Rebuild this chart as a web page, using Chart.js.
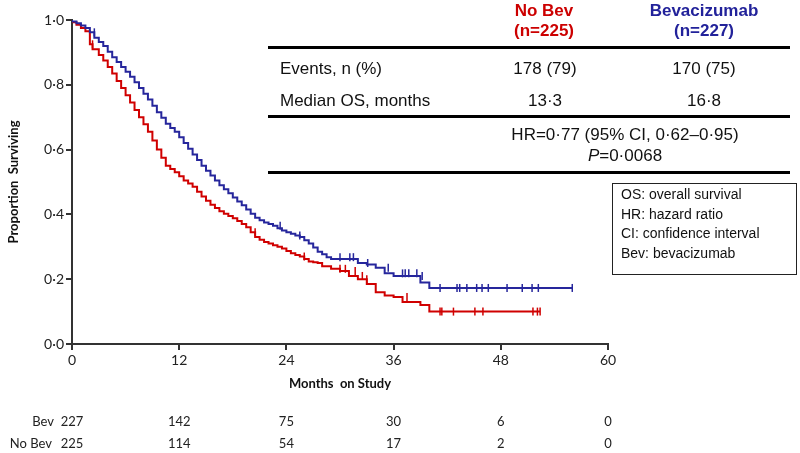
<!DOCTYPE html>
<html>
<head>
<meta charset="utf-8">
<script src="https://cdn.jsdelivr.net/npm/chart.js@4"></script>
<style>
  body { margin: 0; background: #fff; }
  #wrap { position: relative; width: 800px; height: 453px; }
  .t { position: absolute; font-family: "Liberation Sans", Arial, sans-serif; font-size: 17px; color: #111; white-space: nowrap; line-height: 1; }
  .c { transform: translateX(-50%); text-align: center; }
  .rule { position: absolute; left: 268px; width: 522px; height: 3px; background: #000; }
  #legendBox { position: absolute; left: 612px; top: 183px; width: 183px; height: 90px; border: 1.5px solid #222; }
  #legendBox div { font-family: "Liberation Sans", Arial, sans-serif; font-size: 14px; color: #111; line-height: 19.5px; padding-left: 8px; }
</style>
</head>
<body>
<div id="wrap">
  <canvas id="grafico" width="800" height="453"></canvas>

  <div class="t c" style="left:544px;top:2px;color:#cc0000;font-weight:bold;">No Bev</div>
  <div class="t c" style="left:544px;top:22px;color:#cc0000;font-weight:bold;">(n=225)</div>
  <div class="t c" style="left:704px;top:2px;color:#22229a;font-weight:bold;">Bevacizumab</div>
  <div class="t c" style="left:704px;top:22px;color:#22229a;font-weight:bold;">(n=227)</div>
  <div class="rule" style="top:46px;"></div>
  <div class="t" style="left:280px;top:60px;">Events, n (%)</div>
  <div class="t c" style="left:545px;top:60px;">178 (79)</div>
  <div class="t c" style="left:704px;top:60px;">170 (75)</div>
  <div class="t" style="left:280px;top:92px;">Median OS, months</div>
  <div class="t c" style="left:545px;top:92px;">13·3</div>
  <div class="t c" style="left:704px;top:92px;">16·8</div>
  <div class="rule" style="top:115px;"></div>
  <div class="t c" style="left:625px;top:126px;">HR=0·77 (95% CI, 0·62–0·95)</div>
  <div class="t c" style="left:625px;top:147px;"><i>P</i>=0·0068</div>
  <div class="rule" style="top:171px;"></div>

  <div id="legendBox">
    <div style="margin-top:1px;">OS: overall survival</div>
    <div>HR: hazard ratio</div>
    <div>CI: confidence interval</div>
    <div>Bev: bevacizumab</div>
  </div>
</div>

<script>
// Kaplan-Meier curves (months, proportion surviving)
const bevMeses = [0, 0.5, 1, 1.5, 2, 2.5, 3, 3.5, 4, 4.5, 5, 5.5, 6, 6.5, 7, 7.5, 8, 8.5, 9, 9.5, 10, 10.5, 11, 11.5, 12, 12.5, 13, 13.5, 14, 14.5, 15, 15.5, 16, 16.5, 17, 17.5, 18, 18.5, 19, 19.5, 20, 20.5, 21, 21.5, 22, 22.5, 23, 23.5, 24, 24.5, 25, 25.5, 26, 26.5, 27, 27.5, 28, 28.5, 29, 32, 33, 34, 35, 36, 39, 40, 41, 56];
const bevSobrev = [1.0, 0.995, 0.99, 0.983, 0.975, 0.962, 0.945, 0.932, 0.92, 0.902, 0.885, 0.87, 0.855, 0.84, 0.825, 0.808, 0.79, 0.772, 0.755, 0.735, 0.715, 0.698, 0.68, 0.667, 0.655, 0.638, 0.62, 0.603, 0.585, 0.568, 0.55, 0.535, 0.52, 0.505, 0.49, 0.478, 0.465, 0.452, 0.44, 0.428, 0.415, 0.402, 0.39, 0.382, 0.375, 0.37, 0.365, 0.357, 0.35, 0.345, 0.34, 0.335, 0.33, 0.32, 0.31, 0.298, 0.285, 0.277, 0.268, 0.262, 0.25, 0.245, 0.235, 0.218, 0.21, 0.19, 0.173, 0.173];

const semBevMeses = [0, 0.5, 1, 1.5, 2, 2.3, 3, 3.5, 4, 4.5, 5, 5.5, 6, 6.5, 7, 7.5, 8, 8.5, 9, 9.5, 10, 10.5, 11, 11.5, 12, 12.5, 13, 13.5, 14, 14.5, 15, 15.5, 16, 16.5, 17, 17.5, 18, 18.5, 19, 19.5, 20, 20.5, 21, 21.5, 22, 22.5, 23, 23.5, 24, 24.5, 25, 25.5, 26, 26.5, 27, 27.5, 28, 29, 30, 31, 32, 33, 34, 35, 36, 37, 39, 40, 41, 52.4];
const semBevSobrev = [1.0, 0.993, 0.985, 0.975, 0.965, 0.925, 0.91, 0.892, 0.875, 0.855, 0.835, 0.812, 0.79, 0.768, 0.745, 0.722, 0.7, 0.678, 0.655, 0.628, 0.6, 0.575, 0.55, 0.54, 0.53, 0.518, 0.505, 0.495, 0.485, 0.47, 0.455, 0.442, 0.43, 0.42, 0.41, 0.402, 0.395, 0.388, 0.38, 0.37, 0.36, 0.345, 0.33, 0.322, 0.315, 0.31, 0.305, 0.3, 0.295, 0.287, 0.28, 0.275, 0.27, 0.262, 0.255, 0.252, 0.25, 0.24, 0.232, 0.225, 0.21, 0.2, 0.185, 0.16, 0.15, 0.145, 0.13, 0.12, 0.1, 0.1];

// censored observations (months)
const bevCensura = [2.5, 23.3, 25.5, 30, 31.1, 31.5, 33.1, 35.4, 37, 37.3, 37.7, 38.6, 39.2, 41.2, 43.1, 43.4, 44.2, 45.3, 45.9, 46.6, 48.7, 50.4, 51.5, 52.2, 56];
const semBevCensura = [2.3, 20.5, 26, 30, 30.6, 31.7, 32.5, 33, 37.5, 41.2, 41.4, 42.7, 45.1, 46, 51.6, 52.1, 52.4];

// numbers at risk
const mesesRisco = [0, 12, 24, 36, 48, 60];
const riscoBev = [227, 142, 75, 30, 6, 0];
const riscoSemBev = [225, 114, 54, 17, 2, 0];

const corBev = '#26269c';
const corSemBev = '#d00000';

function pontos(meses, sobrev) {
    return meses.map((m, i) => ({ x: m, y: sobrev[i] }));
}

function sobrevEm(meses, sobrev, t) {
    let v = sobrev[0];
    for (let i = 0; i < meses.length; i++) {
        if (meses[i] <= t) v = sobrev[i];
    }
    return v;
}

function censuras(lista, meses, sobrev) {
    return lista.map(t => ({ x: t, y: sobrevEm(meses, sobrev, t) }));
}

const fmt = v => v.toFixed(1).replace('.', '·');
const fonte = 'Lato, "Open Sans", sans-serif';

const tabelaRisco = {
    id: 'tabelaRisco',
    afterDraw(chart) {
        const c = chart.ctx;
        const xs = chart.scales.x;
        c.save();
        c.font = '13px ' + fonte;
        c.fillStyle = '#222';
        c.textBaseline = 'middle';
        c.textAlign = 'right';
        c.fillText('Bev', 54, 422);
        c.fillText('No Bev', 52, 444);
        c.textAlign = 'center';
        mesesRisco.forEach((m, i) => {
            const px = xs.getPixelForValue(m);
            c.fillText(String(riscoBev[i]), px, 422);
            c.fillText(String(riscoSemBev[i]), px, 444);
        });
        c.restore();
    }
};

const ctx = document.getElementById('grafico').getContext('2d');

new Chart(ctx, {
    type: 'line',
    data: {
        datasets: [
            {
                label: 'Bevacizumab',
                data: pontos(bevMeses, bevSobrev),
                borderColor: corBev,
                borderWidth: 2,
                stepped: 'after',
                pointRadius: 0,
                fill: false
            },
            {
                label: 'No Bev',
                data: pontos(semBevMeses, semBevSobrev),
                borderColor: corSemBev,
                borderWidth: 2,
                stepped: 'after',
                pointRadius: 0,
                fill: false
            },
            {
                label: 'Bev censored',
                data: censuras(bevCensura, bevMeses, bevSobrev),
                showLine: false,
                pointStyle: 'line',
                rotation: 90,
                pointRadius: 4,
                borderColor: corBev,
                borderWidth: 1.5
            },
            {
                label: 'No Bev censored',
                data: censuras(semBevCensura, semBevMeses, semBevSobrev),
                showLine: false,
                pointStyle: 'line',
                rotation: 90,
                pointRadius: 4,
                borderColor: corSemBev,
                borderWidth: 1.5
            }
        ]
    },
    options: {
        responsive: false,
        animation: false,
        layout: { padding: { left: 0, top: 20, right: 192, bottom: 53 } },
        plugins: {
            legend: { display: false },
            tooltip: { enabled: false }
        },
        scales: {
            x: {
                type: 'linear',
                min: 0,
                max: 60,
                afterFit: s => { s.height = 56; },
                ticks: {
                    stepSize: 12,
                    color: '#222',
                    font: { family: fonte, size: 14 },
                    padding: 2
                },
                grid: { display: true, drawOnChartArea: false, tickLength: 6, color: '#333', lineWidth: 2 },
                border: { color: '#333', width: 2 },
                title: {
                    display: true,
                    text: 'Months  on Study',
                    color: '#111',
                    font: { family: fonte, size: 13, weight: 'bold' },
                    padding: { top: 0, bottom: 8 }
                }
            },
            y: {
                min: 0,
                max: 1,
                afterFit: s => { s.width = 72; },
                ticks: {
                    stepSize: 0.2,
                    color: '#222',
                    font: { family: fonte, size: 14 },
                    padding: 2,
                    callback: v => fmt(v)
                },
                grid: { display: true, drawOnChartArea: false, tickLength: 6, color: '#333', lineWidth: 2 },
                border: { color: '#333', width: 2 },
                title: {
                    display: true,
                    text: 'Proportion  Surviving',
                    color: '#111',
                    font: { family: fonte, size: 13, weight: 'bold' },
                    padding: { top: 6, bottom: 0 }
                }
            }
        }
    },
    plugins: [tabelaRisco]
});
</script>
</body>
</html>
